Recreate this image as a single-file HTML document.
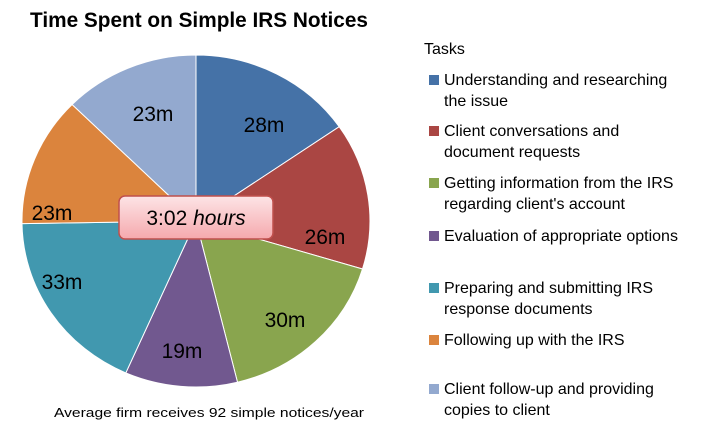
<!DOCTYPE html>
<html><head><meta charset="utf-8"><style>html,body{margin:0;padding:0;background:#fff}svg{display:block}</style></head><body>
<svg width="716" height="438" viewBox="0 0 716 438" xmlns="http://www.w3.org/2000/svg" font-family="Liberation Sans, sans-serif">
<defs><linearGradient id="g" x1="0" y1="0" x2="0" y2="1"><stop offset="0" stop-color="#fde4e6"/><stop offset="1" stop-color="#f5a9ad"/></linearGradient></defs>
<text x="30" y="27" font-size="21" font-weight="bold" textLength="338" lengthAdjust="spacingAndGlyphs">Time Spent on Simple IRS Notices</text>
<g stroke="#fff" stroke-width="1">
<path d="M196,221 L196,55 A174,166 0 0 1 339.2,126.7 Z" fill="#4572a7"/>
<path d="M196,221 L339.2,126.7 A174,166 0 0 1 362.5,269 Z" fill="#aa4643"/>
<path d="M196,221 L362.5,269 A174,166 0 0 1 237.5,382.2 Z" fill="#89a54e"/>
<path d="M196,221 L237.5,382.2 A174,166 0 0 1 125.8,372.9 Z" fill="#71588f"/>
<path d="M196,221 L125.8,372.9 A174,166 0 0 1 22,223.6 Z" fill="#4198af"/>
<path d="M196,221 L22,223.6 A174,166 0 0 1 72.1,104.5 Z" fill="#db843d"/>
<path d="M196,221 L72.1,104.5 A174,166 0 0 1 196,55 Z" fill="#93a9cf"/>
</g>
<g font-size="21" text-anchor="middle">
<text x="264" y="132">28m</text><text x="325" y="244">26m</text><text x="285" y="327">30m</text>
<text x="182" y="358">19m</text><text x="62" y="289">33m</text><text x="52" y="220">23m</text><text x="153" y="121">23m</text>
</g>
<rect x="119" y="196" width="154" height="43" rx="6" fill="url(#g)" stroke="#c0504d" stroke-width="1.5"/>
<text x="196" y="225" font-size="21" text-anchor="middle">3:02 <tspan font-style="italic">hours</tspan></text>
<text x="54" y="417" font-size="13" textLength="310" lengthAdjust="spacingAndGlyphs">Average firm receives 92 simple notices/year</text>
<text x="424" y="54" font-size="16">Tasks</text>
<g font-size="16">
<rect x="429" y="75" width="10" height="10" fill="#4572a7"/><text x="444" y="85">Understanding and researching</text><text x="444" y="106">the issue</text>
<rect x="429" y="126" width="10" height="10" fill="#aa4643"/><text x="444" y="136">Client conversations and</text><text x="444" y="157">document requests</text>
<rect x="429" y="178" width="10" height="10" fill="#89a54e"/><text x="444" y="188">Getting information from the IRS</text><text x="444" y="209">regarding client's account</text>
<rect x="429" y="231" width="10" height="10" fill="#71588f"/><text x="444" y="241">Evaluation of appropriate options</text>
<rect x="429" y="283" width="10" height="10" fill="#4198af"/><text x="444" y="293">Preparing and submitting IRS</text><text x="444" y="314">response documents</text>
<rect x="429" y="335" width="10" height="10" fill="#db843d"/><text x="444" y="345">Following up with the IRS</text>
<rect x="429" y="384" width="10" height="10" fill="#93a9cf"/><text x="444" y="394">Client follow-up and providing</text><text x="444" y="415">copies to client</text>
</g>
</svg>
</body></html>
